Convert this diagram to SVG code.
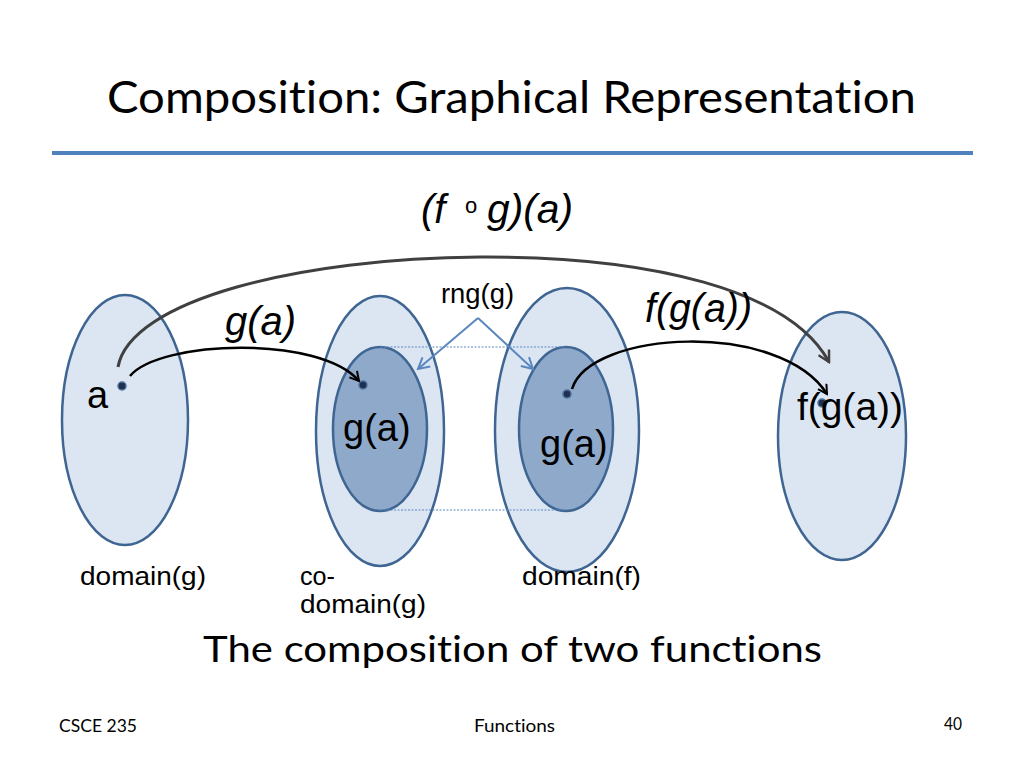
<svg xmlns="http://www.w3.org/2000/svg" width="1024" height="768" viewBox="0 0 1024 768">
<style>
.light{fill:#dce6f2;stroke:#3f6592;stroke-width:2.5}
.dark{fill:#8fa9cb;stroke:#3f6592;stroke-width:2.5}
.dot{fill:#1f3150;stroke:#4f6f9a;stroke-width:1.5}
.lbl{font-family:"Liberation Sans",Arial,sans-serif;fill:#000}
.cal{font-family:Lato,"Open Sans",sans-serif;fill:#000;font-variant-ligatures:none}
.it{font-style:italic}
</style>
<defs>
<marker id="ahBlack" markerWidth="12" markerHeight="12" refX="10" refY="6" orient="auto" markerUnits="userSpaceOnUse">
<path d="M1,1 L10,6 L1,11" fill="none" stroke="#000" stroke-width="2"/>
</marker>
<marker id="ahGray" markerWidth="14" markerHeight="14" refX="12" refY="7" orient="auto" markerUnits="userSpaceOnUse">
<path d="M1,1 L12,7 L1,13" fill="none" stroke="#404040" stroke-width="2.5"/>
</marker>
<marker id="ahBlue" markerWidth="14" markerHeight="14" refX="12" refY="7" orient="auto" markerUnits="userSpaceOnUse">
<path d="M1,1 L12,7 L1,13" fill="none" stroke="#5b87c0" stroke-width="2"/>
</marker>
</defs>
<rect width="1024" height="768" fill="#fff"/>
<text class="cal" x="107" y="113" font-size="44" textLength="809" lengthAdjust="spacingAndGlyphs">Composition: Graphical Representation</text>
<line x1="52" y1="153" x2="973" y2="153" stroke="#4f81bd" stroke-width="4"/>

<g id="domain-g">
<ellipse class="light" cx="125" cy="420" rx="63" ry="125"/>
<circle class="dot" cx="122" cy="386" r="4"/>
<text class="lbl" x="87" y="408" font-size="38">a</text>
</g>
<g id="codomain-g">
<ellipse class="light" cx="380" cy="431" rx="64" ry="135"/>
<ellipse class="dark" cx="380" cy="429" rx="47" ry="82"/>
<circle class="dot" cx="363" cy="385" r="4"/>
<text class="lbl" x="343" y="441" font-size="38">g(a)</text>
</g>
<g id="domain-f">
<ellipse class="light" cx="567" cy="430" rx="72" ry="142"/>
<ellipse class="dark" cx="566" cy="429" rx="47" ry="82"/>
<circle class="dot" cx="567" cy="394" r="4"/>
<text class="lbl" x="540" y="457" font-size="38">g(a)</text>
</g>
<g id="codomain-f">
<ellipse class="light" cx="842" cy="436" rx="64" ry="124"/>
<circle class="dot" cx="822" cy="403" r="4"/>
<text class="lbl" x="797" y="420" font-size="38" textLength="106" lengthAdjust="spacingAndGlyphs">f(g(a))</text>
</g>

<g id="connectors" fill="none">
<line x1="380" y1="347" x2="566" y2="347" stroke="#5b87c0" stroke-width="1.2" stroke-dasharray="2,1.5"/>
<line x1="380" y1="510" x2="566" y2="510" stroke="#5b87c0" stroke-width="1.2" stroke-dasharray="2,1.5"/>
<path d="M118,367 C130,300 300,258 480,257 C650,256 790,290 829,362" stroke="#404040" stroke-width="3" marker-end="url(#ahGray)"/>
<path d="M130,376 C160,340 320,335 359,381" stroke="#000" stroke-width="2.5" marker-end="url(#ahBlack)"/>
<path d="M572,389 C590,330 780,320 827,394" stroke="#000" stroke-width="2.5" marker-end="url(#ahBlack)"/>
<path d="M478,318 L418,369" stroke="#5b87c0" stroke-width="2" marker-end="url(#ahBlue)"/>
<path d="M478,318 L533,369" stroke="#5b87c0" stroke-width="2" marker-end="url(#ahBlue)"/>
</g>

<g id="labels">
<text class="lbl it" x="421" y="223" font-size="40">(f</text>
<text class="lbl" x="465" y="213" font-size="22">o</text>
<text class="lbl it" x="487" y="223" font-size="40" textLength="86" lengthAdjust="spacingAndGlyphs">g)(a)</text>
<text class="lbl it" x="225" y="335" font-size="40" textLength="71" lengthAdjust="spacingAndGlyphs">g(a)</text>
<text class="lbl it" x="645" y="322" font-size="40" textLength="107" lengthAdjust="spacingAndGlyphs">f(g(a))</text>
<text class="lbl" x="441" y="303" font-size="27" textLength="73" lengthAdjust="spacingAndGlyphs">rng(g)</text>
<text class="lbl" x="80" y="585" font-size="25" textLength="126" lengthAdjust="spacingAndGlyphs">domain(g)</text>
<text class="lbl" x="300" y="585" font-size="25" textLength="35" lengthAdjust="spacingAndGlyphs">co-</text>
<text class="lbl" x="300" y="613" font-size="25" textLength="126" lengthAdjust="spacingAndGlyphs">domain(g)</text>
<text class="lbl" x="522" y="585" font-size="25" textLength="119" lengthAdjust="spacingAndGlyphs">domain(f)</text>
</g>
<text class="cal" x="203" y="662" font-size="36" textLength="619" lengthAdjust="spacingAndGlyphs">The composition of two functions</text>
<text class="cal" x="59" y="732" font-size="17" textLength="78" lengthAdjust="spacingAndGlyphs">CSCE 235</text>
<text class="cal" x="474" y="732" font-size="17" textLength="81" lengthAdjust="spacingAndGlyphs">Functions</text>
<text class="cal" x="944" y="730" font-size="17" textLength="18" lengthAdjust="spacingAndGlyphs">40</text>
</svg>
